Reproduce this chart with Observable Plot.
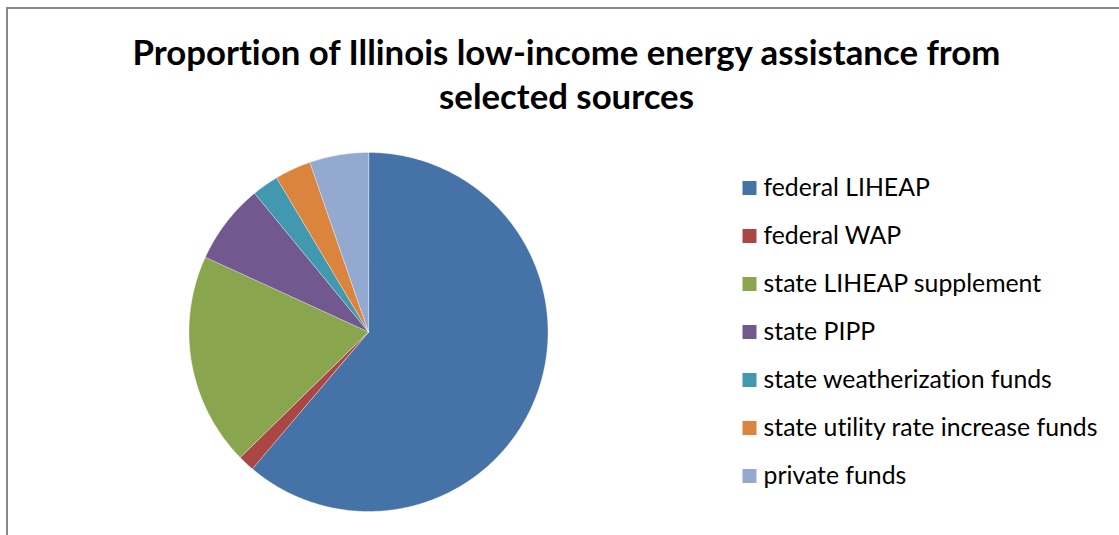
<!DOCTYPE html>
<html>
<head>
<meta charset="utf-8">
<script src="https://cdn.jsdelivr.net/npm/d3@7"></script>
<script src="https://cdn.jsdelivr.net/npm/@observablehq/plot@0.6"></script>
<style>
  body { margin: 0; background: #fff; }
  #chart { position: relative; width: 1119px; height: 535px; overflow: hidden; background: #fff; }
  #frame { position: absolute; left: 6px; top: 7px; width: 1200px; height: 600px;
           border-left: 2px solid #878787; border-top: 2px solid #878787; }
  #chart svg { position: absolute; left: 0; top: 0; font-variant-ligatures: none; font-feature-settings: "liga" 0, "clig" 0; }
</style>
</head>
<body>
<div id="chart"><div id="frame"></div></div>
<script>
// ---- data ----
const categories = [
  "federal LIHEAP",
  "federal WAP",
  "state LIHEAP supplement",
  "state PIPP",
  "state weatherization funds",
  "state utility rate increase funds",
  "private funds"
];
const values = [61.2, 1.47, 19.17, 7.21, 2.39, 3.26, 5.30];
const colors = ["#4572A7", "#AA4643", "#89A54E", "#71588F", "#4198AF", "#DB843D", "#93A9CF"];
const titleLines = ["Proportion of Illinois low-income energy assistance from", "selected sources"];

// ---- layout ----
const W = 1119, H = 535;
const cx = 368, cy = 331.5, R = 179.5;
const titleCenterX = 566, titleBaseline = 64.5, titleLineGap = 43.5, titleWidth = 870;
const legendX = 749, legendTextX = 763, legendY0 = 187.5, legendStep = 48, legendSquare = 14, legendTextWidth = 335;

// fit font sizes to measured widths
const ctx = document.createElement("canvas").getContext("2d");
function fitSize(text, weight, family, target) {
  ctx.font = `${weight} 100px ${family}`;
  return 100 * target / ctx.measureText(text).width;
}
const FONT = "Lato, 'Open Sans', sans-serif";
const titleSize = fitSize(titleLines[0], "bold", FONT, titleWidth);
const longest = categories.reduce((a, b) => (a.length > b.length ? a : b));
const legendSize = fitSize(longest, "normal", FONT, legendTextWidth);

// pie slices as polygons (pixel coordinates, identity projection)
const arcs = d3.pie().sort(null).value(d => d.value)(categories.map((c, i) => ({category: c, value: values[i]})));
const features = arcs.map(a => {
  const pts = [[cx, cy]];
  const n = Math.max(4, Math.ceil((a.endAngle - a.startAngle) / (Math.PI / 360)));
  for (let k = 0; k <= n; ++k) {
    const t = a.startAngle + (a.endAngle - a.startAngle) * k / n;
    pts.push([cx + R * Math.sin(t), cy - R * Math.cos(t)]);
  }
  pts.push([cx, cy]);
  return {type: "Feature", properties: {category: a.data.category}, geometry: {type: "Polygon", coordinates: [pts]}};
});

const legendRows = categories.map((c, i) => ({category: c, y: legendY0 + i * legendStep}));
const titleRows = titleLines.map((t, i) => ({text: t, y: titleBaseline + i * titleLineGap}));

const svg = Plot.plot({
  width: W,
  height: H,
  margin: 0,
  style: {background: "transparent", overflow: "visible"},
  projection: {type: "identity"},
  color: {domain: categories, range: colors},
  marks: [
    Plot.geo(features, {fill: d => d.properties.category, stroke: "#ffffff", strokeWidth: 0.6, strokeOpacity: 0.6}),
    Plot.dot(legendRows, {x: () => legendX, y: "y", symbol: "square", r: legendSquare / Math.sqrt(Math.PI), fill: "category", stroke: null}),
    Plot.text(legendRows, {x: () => legendTextX, y: d => d.y + 8, text: "category", textAnchor: "start", lineAnchor: "bottom",
      fontFamily: FONT, fontSize: legendSize, fill: "#000"}),
    Plot.text(titleRows, {x: () => titleCenterX, y: "y", text: "text", textAnchor: "middle", lineAnchor: "bottom",
      fontFamily: FONT, fontSize: titleSize, fontWeight: "bold", fill: "#000"})
  ]
});
document.getElementById("chart").appendChild(svg);
</script>
</body>
</html>
